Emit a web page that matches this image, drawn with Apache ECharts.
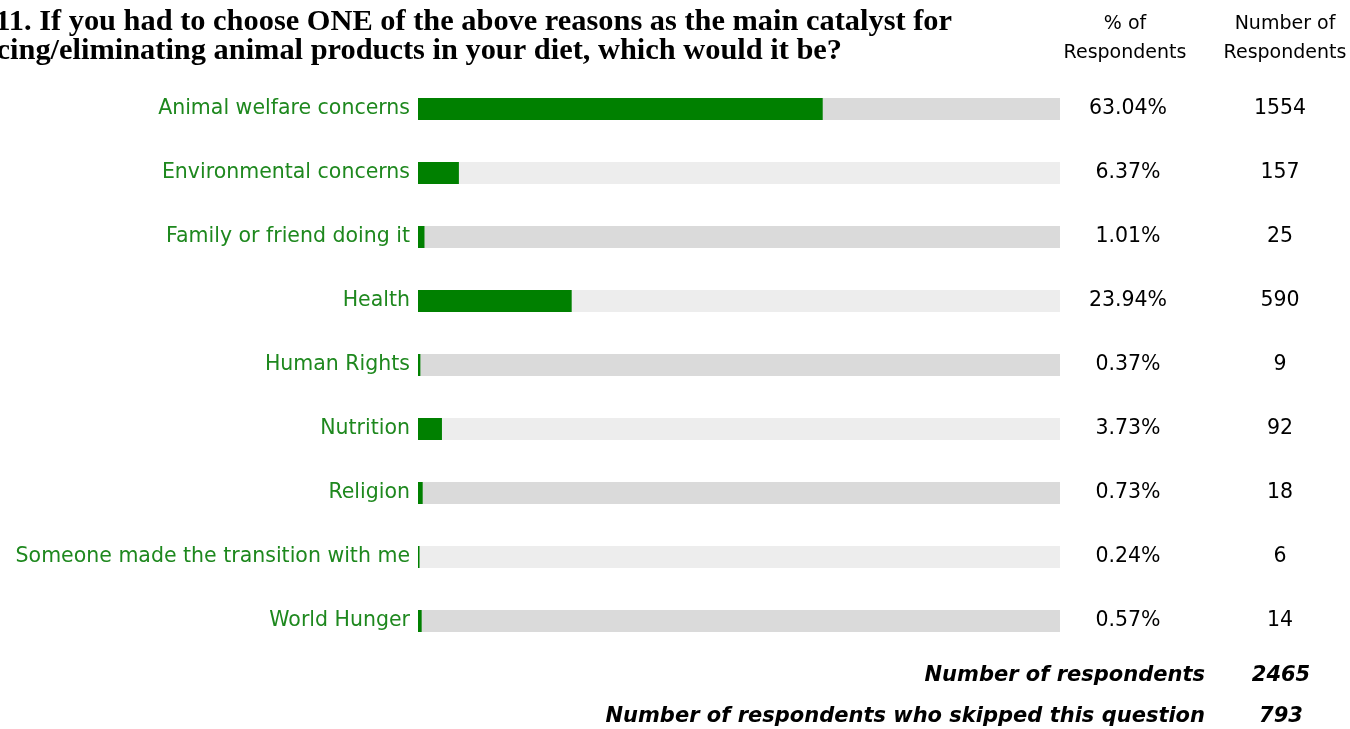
<!DOCTYPE html>
<html><head><meta charset="utf-8">
<script src="https://cdn.jsdelivr.net/npm/echarts@6/dist/echarts.min.js"></script>
<style>html,body{margin:0;padding:0;background:#fff}#c{width:1350px;height:729px}</style>
</head><body><div id="c"></div>
<script>
const categories = ["Animal welfare concerns","Environmental concerns","Family or friend doing it","Health","Human Rights","Nutrition","Religion","Someone made the transition with me","World Hunger"];
const percents = [63.04, 6.37, 1.01, 23.94, 0.37, 3.73, 0.73, 0.24, 0.57];
const counts = [1554, 157, 25, 590, 9, 92, 18, 6, 14];
const totalRespondents = 2465;
const skipped = 793;
const titleLine1 = "11. If you had to choose ONE of the above reasons as the main catalyst for";
const titleLine2 = "reducing/eliminating animal products in your diet, which would it be?";

const labelFont = "'DejaVu Sans', sans-serif";
const chart = echarts.init(document.getElementById('c'));
chart.setOption({
  animation: false,
  grid: {left: 418, right: 290, top: 77, bottom: 76},
  xAxis: {type: 'value', min: 0, max: 100, show: false},
  yAxis: [
    {type: 'category', data: categories, inverse: true, axisLine: {show: false}, axisTick: {show: false},
     axisLabel: {color: '#1e881e', fontSize: 20.5, fontFamily: labelFont, margin: 8}},
    {type: 'category', data: categories, inverse: true, position: 'right', axisLine: {show: false}, axisTick: {show: false},
     axisLabel: {color: '#000', fontSize: 20.5, fontFamily: labelFont, margin: 68, align: 'center',
       formatter: (v, i) => percents[i].toFixed(2) + '%'}},
    {type: 'category', data: categories, inverse: true, position: 'right', axisLine: {show: false}, axisTick: {show: false},
     axisLabel: {color: '#000', fontSize: 20.5, fontFamily: labelFont, margin: 220, align: 'center',
       formatter: (v, i) => String(counts[i])}}
  ],
  series: [
    {type: 'bar', silent: true, barWidth: 22, barGap: '-100%',
     data: categories.map((c, i) => ({value: 100, itemStyle: {color: i % 2 === 0 ? '#dadada' : '#ededed'}}))},
    {type: 'bar', barWidth: 22, itemStyle: {color: '#008000'}, data: percents}
  ],
  graphic: [
    {type: 'text', x: 952, y: 7, style: {text: titleLine1, font: "bold 30.4px 'Liberation Serif', serif", fill: '#000', align: 'right', verticalAlign: 'top'}},
    {type: 'text', x: 842, y: 36, style: {text: titleLine2, font: "bold 30.4px 'Liberation Serif', serif", fill: '#000', align: 'right', verticalAlign: 'top'}},
    {type: 'text', x: 1125, y: 24, style: {text: '% of', font: "19px " + labelFont, fill: '#000', align: 'center', verticalAlign: 'middle'}},
    {type: 'text', x: 1125, y: 53, style: {text: 'Respondents', font: "19px " + labelFont, fill: '#000', align: 'center', verticalAlign: 'middle'}},
    {type: 'text', x: 1285, y: 24, style: {text: 'Number of', font: "19px " + labelFont, fill: '#000', align: 'center', verticalAlign: 'middle'}},
    {type: 'text', x: 1285, y: 53, style: {text: 'Respondents', font: "19px " + labelFont, fill: '#000', align: 'center', verticalAlign: 'middle'}},
    {type: 'text', x: 1205, y: 676, style: {text: 'Number of respondents', font: "italic bold 21px " + labelFont, fill: '#000', align: 'right', verticalAlign: 'middle'}},
    {type: 'text', x: 1281, y: 676, style: {text: String(totalRespondents), font: "italic bold 21px " + labelFont, fill: '#000', align: 'center', verticalAlign: 'middle'}},
    {type: 'text', x: 1205, y: 717, style: {text: 'Number of respondents who skipped this question', font: "italic bold 21px " + labelFont, fill: '#000', align: 'right', verticalAlign: 'middle'}},
    {type: 'text', x: 1281, y: 717, style: {text: String(skipped), font: "italic bold 21px " + labelFont, fill: '#000', align: 'center', verticalAlign: 'middle'}}
  ]
});
</script></body></html>
